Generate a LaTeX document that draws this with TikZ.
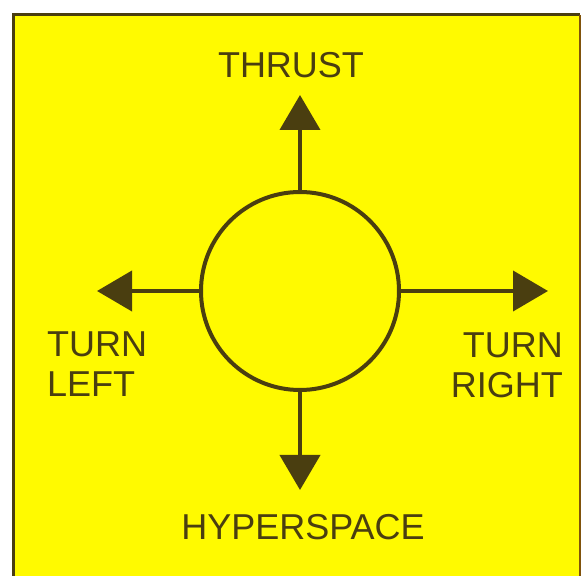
\documentclass[tikz,border=0pt]{standalone}
\usepackage{fontspec}
\setmainfont{Liberation Sans}
\usetikzlibrary{arrows.meta}
\definecolor{bgyellow}{RGB}{255,250,0}
\definecolor{ink}{RGB}{74,62,16}
\begin{document}
\begin{tikzpicture}[x=1pt,y=1pt,
  lbl/.style={inner sep=0pt,text=ink,font=\fontsize{36}{40}\selectfont},
  arr/.style={draw=ink,line width=4pt,-{Triangle[width=40pt,length=35pt]}}]
\useasboundingbox (0,0) rectangle (582,576);
\fill[white] (0,0) rectangle (582,576);
\fill[bgyellow] (13,-5) rectangle (580,561);
\draw[ink,line width=3pt] (13,-5) -- (13,561) -- (580,561);
\draw[ink!70!orange,line width=2pt] (580,561) -- (580,-5);
\node[draw=ink,line width=4pt,circle,inner sep=0pt,minimum size=198pt] (c) at (300,285) {};
\coordinate (tu) at (300,481);
\coordinate (tl) at (97,285);
\coordinate (tr) at (548,285);
\coordinate (td) at (300,86);
\draw[arr] (c.north) -- (tu);
\draw[arr] (c.west) -- (tl);
\draw[arr] (c.east) -- (tr);
\draw[arr] (c.south) -- (td);
\node[lbl,anchor=base] (thrust) at (291,498) {THRUST};
\node[lbl,anchor=north west,align=left] (left) at (47,244) {TURN\\LEFT};
\node[lbl,anchor=north east,align=right] (right) at (563,243) {TURN\\RIGHT};
\node[lbl,anchor=base] (hyper) at (303,36) {HYPERSPACE};
\end{tikzpicture}
\end{document}
